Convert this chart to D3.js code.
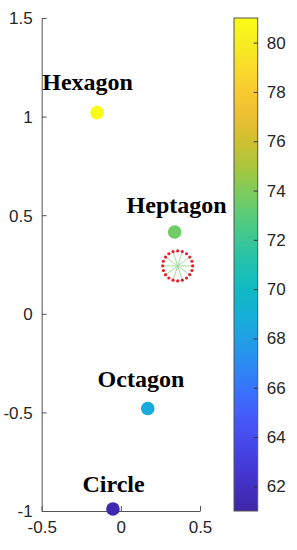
<!DOCTYPE html>
<html><head><meta charset="utf-8">
<script src="https://cdn.jsdelivr.net/npm/d3@7"></script>
<style>body{margin:0;background:#fff}svg{display:block}</style>
</head><body>
<script>
// ---- data ----
const names   = ["Hexagon", "Heptagon", "Octagon", "Circle"];
const xVals   = [-0.15, 0.34, 0.17, -0.05];
const yVals   = [1.02, 0.415, -0.48, -0.99];
const cVals   = [81, 73.6, 68.6, 61.3];
const labelX  = [-0.21, 0.352, 0.127, -0.046];
const labelY  = [1.136, 0.512, -0.37, -0.903];
const ringX   = [0.359];
const ringY   = [0.243];
const xTicks  = [-0.5, 0, 0.5];
const yTicks  = [-1, -0.5, 0, 0.5, 1, 1.5];
const cTicks  = [62, 64, 66, 68, 70, 72, 74, 76, 78, 80];

// parula colormap anchors
const parula = [[0.2422,0.1504,0.6603],[0.2647,0.1978,0.7952],[0.2803,0.2782,0.9221],[0.2760,0.3667,0.9829],
[0.1963,0.4847,0.9892],[0.1460,0.6091,0.9079],[0.0689,0.6948,0.8394],[0.0433,0.7411,0.7394],
[0.1938,0.7758,0.6251],[0.3406,0.8008,0.4789],[0.5616,0.7942,0.3045],[0.7738,0.7598,0.1646],
[0.9393,0.7288,0.2100],[0.9892,0.8136,0.1885],[0.9597,0.9135,0.1423],[0.9769,0.9839,0.0805]]
  .map(c => d3.rgb(c[0]*255, c[1]*255, c[2]*255).toString());
const interp = d3.interpolateRgbBasis(parula);

const W = 297, H = 550;
const svg = d3.select("body").append("svg").attr("width", W).attr("height", H);

const x = d3.scaleLinear().domain([-0.5, 0.5]).range([41.7, 200]);
const y = d3.scaleLinear().domain([-1, 1.5]).range([511, 18]);
const cDomain = [61, 81];
const color = d3.scaleSequential(interp).domain(cDomain);

const axisColor = "#262626";
const tickFont = "'Liberation Sans', Arial, sans-serif";

// x axis
const gx = svg.append("g").attr("transform", `translate(0,${y(-1)})`)
  .call(d3.axisBottom(x).tickValues(xTicks).tickSize(-5).tickSizeOuter(0).tickPadding(10).tickFormat(d3.format("")));
// y axis
const gy = svg.append("g").attr("transform", `translate(${x(-0.5)},0)`)
  .call(d3.axisLeft(y).tickValues(yTicks).tickSize(-5).tickSizeOuter(0).tickPadding(9).tickFormat(d3.format("")));
[gx, gy].forEach(g => {
  g.select(".domain").attr("stroke", "#555").attr("stroke-width", 1);
  g.selectAll(".tick line").attr("stroke", "#555");
  g.selectAll("text").attr("fill", axisColor).style("font-family", tickFont).style("font-size", "17px");
});
gx.selectAll("text").text(d => d < 0 ? "-" + Math.abs(d) : d);
gy.selectAll("text").text(d => d < 0 ? "-" + Math.abs(d) : d).attr("dy", "0.35em");

// ring annotation
const ringR = 15;
const ring = svg.append("g");
ringX.forEach((rx, i) => {
  const cx = x(rx), cy = y(ringY[i]);
  const nSp = 10;
  d3.range(nSp).forEach(k => {
    const a = k * 2 * Math.PI / nSp;
    ring.append("line").attr("x1", cx).attr("y1", cy)
      .attr("x2", cx + ringR * Math.cos(a)).attr("y2", cy + ringR * Math.sin(a))
      .attr("stroke", "#a8dba3").attr("stroke-width", 1);
  });
  const nDots = 20;
  d3.range(nDots).forEach(k => {
    const a = k * 2 * Math.PI / nDots;
    ring.append("circle").attr("cx", cx + ringR * Math.cos(a)).attr("cy", cy + ringR * Math.sin(a))
      .attr("r", 1.6).attr("fill", "#e8202a");
  });
});

// points
svg.append("g").selectAll("circle").data(names).join("circle")
  .attr("cx", (d, i) => x(xVals[i])).attr("cy", (d, i) => y(yVals[i]))
  .attr("r", 6.8).attr("fill", (d, i) => color(cVals[i]));

// labels
svg.append("g").selectAll("text").data(names).join("text")
  .attr("x", (d, i) => x(labelX[i])).attr("y", (d, i) => y(labelY[i]))
  .attr("text-anchor", "middle")
  .style("font-family", "'Liberation Serif', 'Times New Roman', serif")
  .style("font-weight", "bold").style("font-size", "24px").attr("fill", "#000")
  .text(d => d);

// colorbar
const cbX = 234, cbW = 23.7;
const cy = d3.scaleLinear().domain(cDomain).range([511, 18]);
const defs = svg.append("defs");
const grad = defs.append("linearGradient").attr("id", "cb").attr("x1", 0).attr("y1", 1).attr("x2", 0).attr("y2", 0);
d3.range(0, 1.0001, 0.05).forEach(t => grad.append("stop").attr("offset", t).attr("stop-color", interp(t)));
svg.append("rect").attr("x", cbX).attr("y", cy(81)).attr("width", cbW).attr("height", cy(61) - cy(81))
  .attr("fill", "url(#cb)").attr("stroke", "#555").attr("stroke-width", 1);
const gc = svg.append("g").attr("transform", `translate(${cbX + cbW},0)`)
  .call(d3.axisRight(cy).tickValues(cTicks).tickSize(-4).tickSizeOuter(0).tickPadding(9));
gc.select(".domain").remove();
gc.selectAll(".tick line").attr("stroke", "#333");
gc.selectAll("text").attr("fill", axisColor).style("font-family", tickFont).style("font-size", "17px");
</script>
</body></html>
